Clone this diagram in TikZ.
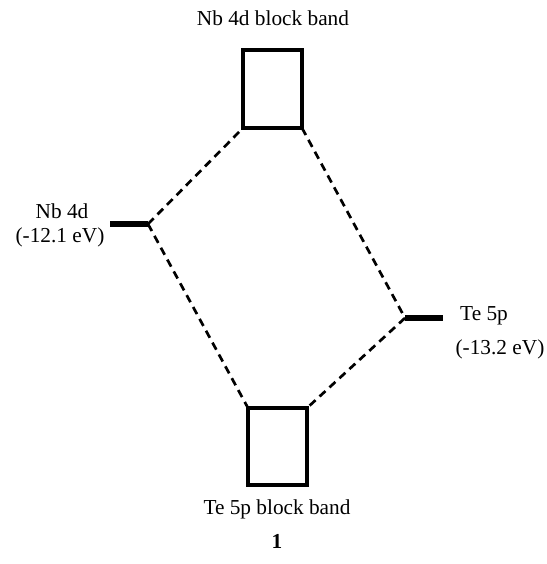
\documentclass[tikz,border=0pt]{standalone}
\usepackage{fontspec}
\setmainfont{Liberation Serif}
\begin{document}
\begin{tikzpicture}[x=1pt,y=-1pt,
  band/.style={draw,line width=3.2pt},
  level/.style={line width=5.5pt},
  conn/.style={line width=2.7pt,dash pattern=on 8pt off 5.5pt},
  lbl/.style={font=\fontsize{21.3}{25}\selectfont,inner sep=0pt}]
\useasboundingbox (0,0) rectangle (546,564);
\draw[band] (243,50) rectangle (302,128);
\coordinate (tbl) at (243,128);
\coordinate (tbr) at (302,128);
\draw[band] (248,408) rectangle (307,485);
\coordinate (btl) at (248,408);
\coordinate (btr) at (307,408);
\coordinate (nbl) at (110,224);
\coordinate (nbr) at (148,224);
\coordinate (tel) at (405,318);
\coordinate (ter) at (443,318);
\draw[level] (nbl) -- (nbr);
\draw[level] (tel) -- (ter);
\draw[conn] (nbr) -- (tbl);
\draw[conn] (nbr) -- (btl);
\draw[conn] (tbr) -- (tel);
\draw[conn] (tel) -- (btr);
\node[lbl] (t1) at (273,18) {Nb 4d block band};
\node[lbl] (t2) at (277,509) {Te 5p block band};
\node[lbl,font=\fontsize{21.3}{25}\selectfont\bfseries] (n1) at (277,541) {1};
\node[lbl] (a1) at (62,211) {Nb 4d};
\node[lbl] (a2) at (60,237) {(-12.1 eV)};
\node[lbl] (b1) at (484,316) {Te 5p};
\node[lbl] (b2) at (500,349) {(-13.2 eV)};
\end{tikzpicture}
\end{document}
